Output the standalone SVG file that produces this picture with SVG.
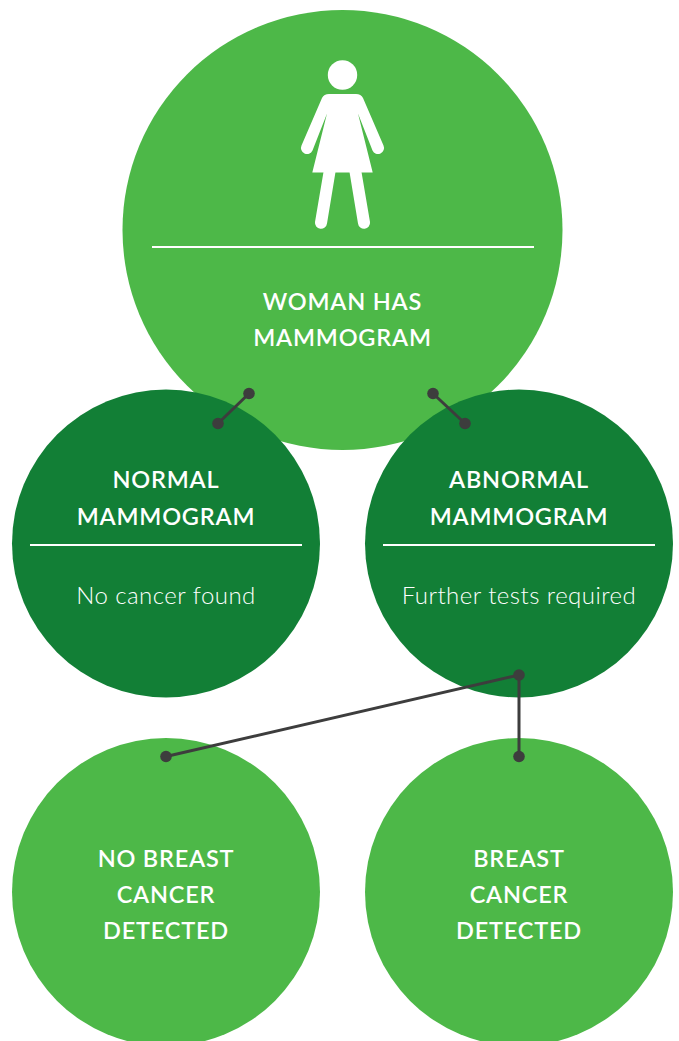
<svg xmlns="http://www.w3.org/2000/svg" width="679" height="1041" viewBox="0 0 679 1041">
<style>
.l{fill:#4db848}.d{fill:#127f36}
text{fill:#fff;font-family:"Lato","Open Sans","Liberation Sans",sans-serif;text-anchor:middle}
.h{font-size:23.500px;font-weight:600;letter-spacing:.8px}
.b{font-size:24px;font-weight:300;letter-spacing:.47px}
.r{stroke:#fff;stroke-width:2;fill:none}
.c{stroke:#3d3d3d;stroke-width:3;fill:none}
.p{fill:#3d3d3d}
</style>
<rect width="679" height="1041" fill="#fff"/>
<g id="woman"><circle class="l" cx="342.500" cy="230" r="220"/>
<g fill="#fff"><circle cx="342.500" cy="75" r="14.700"/>
<path d="M329 94H356Q361 94 363 98L383.500 145.500A6 6 0 0 1 372.500 150.500L358 113.500L372.700 172.500H312.300L327 113.500L312.500 150.500A6 6 0 0 1 301.500 145.500L322 98Q324 94 329 94Z"/>
<path d="M323.500 172H335.500L327 223.500A6 6 0 0 1 315 222Z"/>
<path d="M349.500 172H361.500L370 222A6 6 0 0 1 358 223.500Z"/></g>
<line class="r" x1="152" y1="247" x2="534" y2="247"/>
<text class="h" x="342.500" y="310">WOMAN HAS</text><text class="h" x="342.500" y="346">MAMMOGRAM</text></g>
<g id="normal"><circle class="d" cx="166" cy="543.500" r="154"/>
<text class="h" x="166" y="488">NORMAL</text><text class="h" x="166" y="525">MAMMOGRAM</text>
<line class="r" x1="30" y1="545" x2="302" y2="545"/>
<text class="b" x="166" y="604">No cancer found</text></g>
<g id="abnormal"><circle class="d" cx="519" cy="543.500" r="154"/>
<text class="h" x="519" y="488">ABNORMAL</text><text class="h" x="519" y="525">MAMMOGRAM</text>
<line class="r" x1="383" y1="545" x2="655" y2="545"/>
<text class="b" x="519" y="604">Further tests required</text></g>
<g id="no-cancer"><circle class="l" cx="166" cy="892" r="154"/>
<text class="h" x="166" y="867">NO BREAST</text><text class="h" x="166" y="903">CANCER</text><text class="h" x="166" y="939">DETECTED</text></g>
<g id="cancer"><circle class="l" cx="519" cy="892" r="154"/>
<text class="h" x="519" y="867">BREAST</text><text class="h" x="519" y="903">CANCER</text><text class="h" x="519" y="939">DETECTED</text></g>
<g id="connectors">
<path class="c" d="M249 393.500L218 423.500M433 393.500L465 423.500M519 675L166 756.500M519 675V756.500"/>
<g class="p"><circle cx="249" cy="393.500" r="5.800"/><circle cx="218" cy="423.500" r="5.800"/><circle cx="433" cy="393.500" r="5.800"/><circle cx="465" cy="423.500" r="5.800"/><circle cx="519" cy="675" r="5.800"/><circle cx="166" cy="756.500" r="5.800"/><circle cx="519" cy="756.500" r="5.800"/></g>
</g>
</svg>
